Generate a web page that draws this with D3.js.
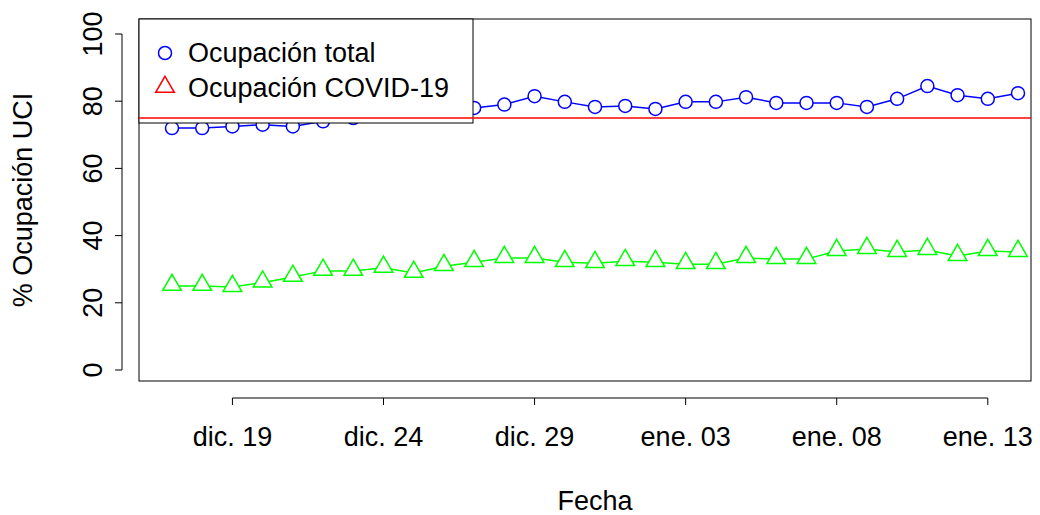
<!DOCTYPE html>
<html><head><meta charset="utf-8">
<script src="https://cdn.jsdelivr.net/npm/d3@7"></script>
<style>body{margin:0;background:#fff}text{font-family:"Liberation Sans",Arial,sans-serif}</style>
</head><body><script>
var fechas = ["2020-12-17","2020-12-18","2020-12-19","2020-12-20","2020-12-21","2020-12-22","2020-12-23","2020-12-24","2020-12-25","2020-12-26","2020-12-27","2020-12-28","2020-12-29","2020-12-30","2020-12-31","2021-01-01","2021-01-02","2021-01-03","2021-01-04","2021-01-05","2021-01-06","2021-01-07","2021-01-08","2021-01-09","2021-01-10","2021-01-11","2021-01-12","2021-01-13","2021-01-14"];
var total = [72,72,72.5,73,72.5,74,75,76,77,77.5,78,79,81.5,79.8,78.3,78.6,77.7,79.8,79.8,81.2,79.5,79.5,79.5,78.3,80.7,84.5,81.8,80.7,82.4];
var covid = [25,25,24.7,26,27.7,29.5,29.5,30.4,28.9,30.9,32.1,33.3,33.3,32.1,31.8,32.4,32.1,31.5,31.5,33.3,33,33,35.4,36,35.1,35.7,33.9,35.4,35.1];
var umbral = 75;
var xTicks = ["2020-12-19","2020-12-24","2020-12-29","2021-01-03","2021-01-08","2021-01-13"];
var xTickLabels = ["dic. 19","dic. 24","dic. 29","ene. 03","ene. 08","ene. 13"];
var yTicks = [0,20,40,60,80,100];

var W=1040,H=515, L=139,R=1031,T=19,B=381;
var parse=d3.utcParse("%Y-%m-%d");
var dates=fechas.map(parse);
var svg=d3.select("body").append("svg").attr("width",W).attr("height",H);
var x=d3.scaleUtc().domain([parse("2020-12-17"),parse("2021-01-14")]).range([172,1018]);
var y=d3.scaleLinear().domain([0,100]).range([370,34]);
var fs=27;

// y axis
var ya=svg.append("g");
ya.append("line").attr("x1",122).attr("x2",122).attr("y1",y(0)).attr("y2",y(100)).attr("stroke","#000");
yTicks.forEach(function(v){
  ya.append("line").attr("x1",115).attr("x2",122).attr("y1",y(v)).attr("y2",y(v)).attr("stroke","#000");
  ya.append("text").attr("transform","translate(102,"+y(v)+") rotate(-90)").attr("text-anchor","middle").attr("font-size",fs).text(v);
});
svg.append("text").attr("transform","translate(32,200) rotate(-90)").attr("text-anchor","middle").attr("font-size",fs).text("% Ocupación UCI");
// x axis
var xa=svg.append("g");
var tp=xTicks.map(parse);
xa.append("line").attr("x1",x(tp[0])).attr("x2",x(tp[tp.length-1])).attr("y1",398).attr("y2",398).attr("stroke","#000");
tp.forEach(function(d,i){
  xa.append("line").attr("x1",x(d)).attr("x2",x(d)).attr("y1",398).attr("y2",405).attr("stroke","#000");
  xa.append("text").attr("x",x(d)).attr("y",446).attr("text-anchor","middle").attr("font-size",fs).text(xTickLabels[i]);
});
svg.append("text").attr("x",595).attr("y",510).attr("text-anchor","middle").attr("font-size",fs).text("Fecha");

svg.append("rect").attr("x",L).attr("y",T).attr("width",R-L).attr("height",B-T).attr("fill","none").attr("stroke","#000");

function series(vals,col,tri){
  var line=d3.line().x(function(d,i){return x(dates[i]);}).y(function(d){return y(d);});
  svg.append("path").attr("d",line(vals)).attr("fill","none").attr("stroke",col).attr("stroke-width",1.5);
  vals.forEach(function(v,i){
    if(tri) svg.append("path").attr("d",d3.symbol(d3.symbolTriangle,150)()).attr("transform","translate("+x(dates[i])+","+(y(v)-1)+")").attr("fill","#fff").attr("stroke",col).attr("stroke-width",1.5);
    else svg.append("circle").attr("cx",x(dates[i])).attr("cy",y(v)).attr("r",6.5).attr("fill","#fff").attr("stroke",col).attr("stroke-width",1.5);
  });
}
series(total,"#0000ff",false);
series(covid,"#00ff00",true);

// legend
svg.append("rect").attr("x",L).attr("y",T).attr("width",334).attr("height",104).attr("fill","#fff").attr("stroke","#000");
svg.append("circle").attr("cx",165).attr("cy",53).attr("r",6.5).attr("fill","none").attr("stroke","#0000ff").attr("stroke-width",1.5);
svg.append("text").attr("x",188).attr("y",62).attr("font-size",fs).text("Ocupación total");
svg.append("path").attr("d",d3.symbol(d3.symbolTriangle,150)()).attr("transform","translate(165,87)").attr("fill","none").attr("stroke","#ff0000").attr("stroke-width",1.5);
svg.append("text").attr("x",188).attr("y",97).attr("font-size",fs).text("Ocupación COVID-19");

svg.append("line").attr("x1",L).attr("x2",R).attr("y1",y(umbral)).attr("y2",y(umbral)).attr("stroke","#ff0000").attr("stroke-width",1.5);
</script></body></html>
